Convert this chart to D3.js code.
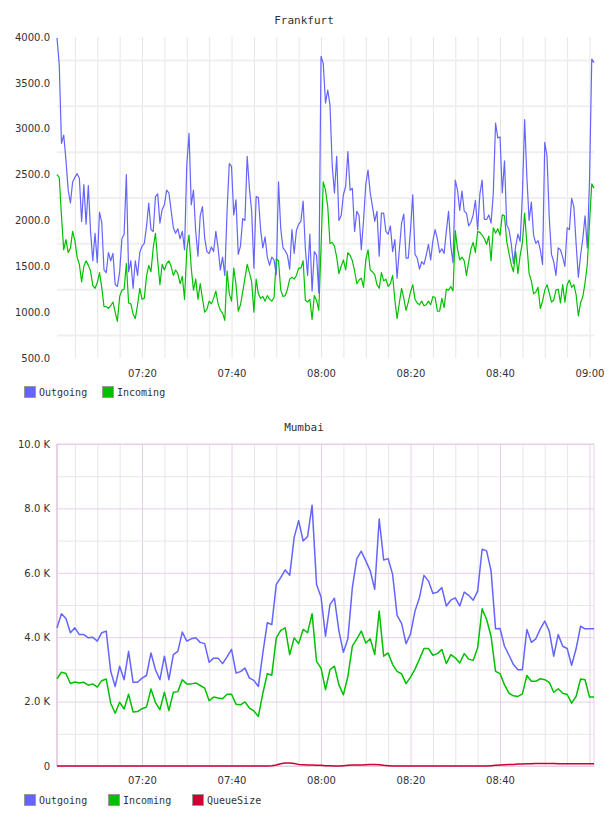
<!DOCTYPE html>
<html lang="en">
  <head>
    <meta charset="UTF-8" />
    <script src="https://cdn.jsdelivr.net/npm/d3@7"></script>
    <style>
      * {
        margin: 0;
        padding: 0;
      }
      body {
        background: #fff;
      }
      #container svg {
        display: block;
      }
      .tick text {
        font-family: 'DejaVu Sans', sans-serif;
        font-size: 10px;
        fill: #333;
      }
      .title,
      .legend text {
        font-family: 'DejaVu Sans Mono', monospace;
        fill: #333;
      }
    </style>
    <title>Frankfurt / Mumbai</title>
  </head>
  <body>
    <div id="container"></div>
  </body>
  <script>
    // Frankfurt: one sample every 30 s from 07:01
    const frankfurtOutgoing = [
      3990, 3700, 2840, 2930, 2660, 2330, 2190, 2420, 2470, 2510,
      2460, 1990, 2390, 1960, 2380, 1880, 1560, 1860, 1540, 2090,
      1980, 1460, 1430, 1650, 1560, 1640, 1300, 1280, 1440, 1800,
      1850, 2500, 1440, 1560, 1260, 1560, 1400, 1650, 1720, 1750,
      1930, 2190, 1900, 1880, 2260, 2290, 1970, 2120, 2170, 2330,
      2300, 2110, 1920, 1860, 1910, 1800, 1880, 1680, 2600, 2950,
      2170, 2330, 1880, 1610, 2050, 2150, 1810, 1660, 1640, 1710,
      1660, 1880, 1700, 1460, 1600, 1400, 2100, 2620, 2590, 2060,
      2225, 1630, 1720, 2020, 2000, 2700, 2350, 2100, 1480, 2260,
      2250, 1900, 1700, 1820, 1600, 1510, 1600, 1570, 1410, 2420,
      1910, 1700, 1670, 1620, 1470, 1900, 1640, 1890, 1960, 1990,
      2210, 1690, 1400, 1850, 1230, 1660, 1620, 1210, 3790,
      3710, 3280, 3420, 3260, 2600, 2300, 2700, 2000, 2050, 2280, 2370,
      2750, 2330, 2350, 1880, 2100, 2050, 1680, 2000, 2390, 2550,
      2300, 2150, 1990, 2100, 1610, 2080, 2080, 1880, 1850, 1940,
      1660, 1790, 1370, 1680, 1970, 2070, 1590, 1590, 1900, 2280,
      1630, 1590, 1470, 1550, 1520, 1620, 1740, 1570, 1780, 1900,
      1800, 1650, 1690, 1640, 1880, 2100, 1720, 1540, 2440, 2330,
      2110, 2320, 2100, 2080, 1940, 1980, 2060, 2220, 1900, 2290,
      2440, 2010, 2010, 2060, 1970, 2300, 3060, 2900, 2910, 2300,
      2650, 1950, 1900, 1750, 1530, 1720, 1850, 1770, 2280, 3100,
      2470, 2000, 2200, 1840, 1750, 1780, 1680, 1520, 2850, 2700,
      2030, 1630, 1550, 1400, 1700, 1680, 1600, 1500, 1920, 1900,
      2240, 2150, 1750, 1380, 1620, 1800, 2050, 1700, 2440, 3760, 3720,
    ];
    const frankfurtIncoming = [
      2500, 2470, 2050, 1680, 1790, 1650, 1700, 1880, 1780, 1600,
      1520, 1330, 1500, 1560, 1510, 1450, 1290, 1260, 1320, 1430,
      1270, 1060, 1060, 1040, 1070, 1110, 1000, 900, 1170, 1240,
      1250, 1530, 1100, 1090, 980, 930, 1080, 1260, 1140, 1150,
      1390, 1510, 1440, 1700, 1860, 1560, 1300, 1520, 1460, 1530,
      1560, 1500, 1400, 1460, 1420, 1310, 1390, 1140, 1680, 1840,
      1480, 1240, 1360, 1140, 1310, 1150, 1000, 1030, 1120, 1090,
      1150, 1230, 1090, 1020, 990, 910, 1450, 1200, 1120, 1480,
      1300, 1010, 1080, 1220, 1370, 1520, 1430, 1330, 1000, 1360,
      1200, 1150, 1170, 1120, 1180, 1140, 1120, 1160, 1580, 1560,
      1240, 1170, 1180, 1250, 1360, 1380, 1360, 1400, 1480, 1480,
      1560, 1130, 1110, 1140, 920, 1180, 1130, 1020, 1700,
      2420, 2330, 2150, 1750, 1760, 1720, 1600, 1420, 1500, 1570, 1460,
      1650, 1620, 1560, 1450, 1310, 1350, 1370, 1270, 1570, 1680,
      1460, 1440, 1410, 1300, 1260, 1430, 1340, 1360, 1280, 1310,
      1400, 1130, 930, 1100, 1260, 1150, 1020, 1110, 1220, 1300,
      1140, 1100, 1080, 1120, 1070, 1080, 1120, 1080, 1170, 1160,
      1010, 1010, 1150, 1050, 1250, 1240, 1280, 1230, 1890, 1690,
      1570, 1600, 1560, 1400, 1550, 1690, 1760, 1650, 1880, 1870,
      1840, 1800, 1740, 1830, 1560, 1920, 1860, 1910, 1840, 2060,
      2050, 1770, 1640, 1520, 1440, 1660, 1420, 1620, 1760, 2080,
      1740, 1420, 1340, 1200, 1220, 1270, 1040, 1120, 1240, 1300,
      1210, 1110, 1130, 1240, 1250, 1100, 1300, 1110, 1300, 1350,
      1270, 1300, 1190, 960, 1100, 1170, 1320, 1520, 1980, 2400, 2350,
    ];

    // Mumbai: one sample per minute from 07:01
    const mumbaiOutgoing = [
      4290, 4730, 4580, 4140, 4290, 4080, 4080, 3980, 4000, 3880,
      4140, 4190, 2940, 2470, 3100, 2680, 3560, 2600, 2600, 2730,
      2810, 3510, 2990, 2680, 3410, 2680, 3460, 3560, 4160, 3880,
      3950, 3980, 3840, 3800, 3220, 3350, 3350, 3180, 3390, 3620,
      2890, 2930, 3040, 2730, 2660, 2470, 3510, 4450, 4390, 5640,
      5850, 6090, 5920, 7100, 7620, 6990, 7130, 8100, 5640, 5250,
      4030, 5020, 5210, 4190, 3530, 3950, 5540, 6440, 6670, 6370,
      6060, 5490, 7670, 6400, 6440, 5950, 4680, 4430, 3800, 4100,
      4810, 5230, 5920, 5750, 5360, 5400, 5540, 4970, 5150, 5220,
      4970, 5400, 5300, 5150, 5430, 6730, 6680, 6060, 4260, 4270,
      3720, 3440, 3150, 2990, 2990, 4240, 3840, 3950, 4260, 4500,
      4190, 3410, 4080, 3720, 3650, 3130, 3640, 4340, 4260, 4260,
      4260,
    ];
    const mumbaiIncoming = [
      2710, 2910, 2870, 2560, 2610, 2580, 2600, 2510, 2550, 2450,
      2650, 2700, 1950, 1640, 1980, 1770, 2230, 1680, 1690, 1780,
      1830, 2390, 1970, 1750, 2290, 1720, 2290, 2310, 2680, 2550,
      2550, 2580, 2500, 2420, 2030, 2140, 2110, 2090, 2230, 2230,
      1920, 1900, 1990, 1800, 1710, 1540, 2260, 2870, 2820, 3980,
      4210, 4290, 3460, 3980, 3800, 4240, 4140, 4730, 3250, 3040,
      2370, 2990, 3100, 2520, 2210, 2780, 3720, 3950, 4190, 3820,
      3950, 3460, 4810, 3410, 3510, 3150, 2940, 2860, 2560, 2760,
      3010, 3320, 3650, 3650, 3440, 3490, 3620, 3180, 3460, 3360,
      3200, 3490, 3320, 3280, 3670, 4880, 4550, 4030, 2940, 2870,
      2520, 2260, 2180, 2160, 2240, 2810, 2630, 2630, 2710, 2680,
      2600, 2290, 2400, 2260, 2220, 1950, 2160, 2700, 2680, 2140,
      2140,
    ];
    const mumbaiQueue = [
      0, 0, 0, 0, 0, 0, 0, 0, 0, 0,
      0, 0, 0, 0, 0, 0, 0, 0, 0, 0,
      0, 0, 0, 0, 0, 0, 0, 0, 0, 0,
      0, 0, 0, 0, 0, 0, 0, 0, 0, 0,
      0, 0, 0, 0, 0, 0, 0, 0, 10, 30,
      70, 90, 90, 80, 50, 40, 30, 30, 20, 20,
      10, 10, 0, 0, 10, 20, 30, 30, 30, 40,
      50, 50, 40, 20, 10, 0, 0, 0, 0, 0,
      0, 0, 0, 0, 0, 0, 0, 0, 0, 0,
      0, 0, 0, 0, 0, 0, 0, 10, 20, 30,
      40, 50, 50, 60, 60, 70, 70, 80, 80, 80,
      80, 80, 70, 70, 70, 70, 70, 70, 70, 70,
      70,
    ];

    const frankfurtYTicks = [500, 1000, 1500, 2000, 2500, 3000, 3500, 4000];
    const frankfurtYGrid = [750, 1250, 1750, 2250, 2750, 3250, 3750];
    const mumbaiYTicks = [0, 2000, 4000, 6000, 8000, 10000];
    const mumbaiYMinor = [1000, 3000, 5000, 7000, 9000];

    const colorMap = {
      Outgoing: '#6464ff',
      Incoming: '#00c000',
      QueueSize: '#cc0033',
    };

    const width = 608;
    const height = 816;
    const left = 57;
    const right = 594;

    const startTime = new Date(2024, 0, 1, 7, 1);
    const endTime = new Date(2024, 0, 1, 9, 1);
    const timesFor = (arr, stepSec) =>
      arr.map((v, i) => new Date(+startTime + i * stepSec * 1000));

    const svg = d3
      .select('#container')
      .append('svg')
      .attr('width', width)
      .attr('height', height);

    function drawChart(opt) {
      const g = svg.append('g');
      const x = d3.scaleTime().domain([startTime, endTime]).range([left, right]);
      const y = d3.scaleLinear().domain(opt.yDomain).range([opt.bottom, opt.top]);
      const plotW = right - left;
      const plotH = opt.bottom - opt.top;

      // title
      g.append('text')
        .attr('class', 'title')
        .attr('x', width / 2)
        .attr('y', opt.top - 13)
        .attr('text-anchor', 'middle')
        .attr('font-size', 11)
        .text(opt.title);

      // vertical grid every 5 min
      const vgrid = g
        .append('g')
        .attr('transform', `translate(0,${opt.bottom})`)
        .call(
          d3
            .axisBottom(x)
            .ticks(d3.timeMinute.every(5))
            .tickSize(-plotH)
            .tickFormat('')
        );
      vgrid.select('.domain').remove();
      vgrid
        .selectAll('.tick line')
        .attr('stroke', (d) =>
          opt.purple && d.getMinutes() % 20 === 0 ? opt.majorColor : opt.gridColor
        );

      // horizontal grid (minor)
      const hgrid = g
        .append('g')
        .attr('transform', `translate(${left},0)`)
        .call(d3.axisLeft(y).tickValues(opt.gridValues).tickSize(-plotW).tickFormat(''));
      hgrid.select('.domain').remove();
      hgrid
        .selectAll('.tick line')
        .attr('stroke', opt.hGridColor)
        .attr('stroke-width', opt.hGridWidth);

      if (opt.purple) {
        const major = g
          .append('g')
          .attr('transform', `translate(${left},0)`)
          .call(d3.axisLeft(y).tickValues(opt.yTicks).tickSize(-plotW).tickFormat(''));
        major.select('.domain').remove();
        major.selectAll('.tick line').attr('stroke', opt.majorColor);
        // frame
        g.append('rect')
          .attr('x', left)
          .attr('y', opt.top)
          .attr('width', plotW)
          .attr('height', plotH)
          .attr('fill', 'none')
          .attr('stroke', opt.majorColor);
        g.append('line')
          .attr('x1', left)
          .attr('x2', left)
          .attr('y1', opt.top)
          .attr('y2', opt.bottom)
          .attr('stroke', '#d9b9d9');
      }

      // y labels
      const yAxis = g
        .append('g')
        .attr('transform', `translate(${left},0)`)
        .call(
          d3.axisLeft(y).tickValues(opt.yTicks).tickSize(0).tickPadding(7).tickFormat(opt.yFormat)
        );
      yAxis.select('.domain').remove();

      // x labels
      const xAxis = g
        .append('g')
        .attr('transform', `translate(0,${opt.bottom})`)
        .call(
          d3
            .axisBottom(x)
            .tickValues(opt.xTicks)
            .tickSize(0)
            .tickPadding(opt.xPad)
            .tickFormat(d3.timeFormat('%H:%M'))
        );
      xAxis.select('.domain').remove();

      // lines
      const line = d3
        .line()
        .x((d) => x(d[0]))
        .y((d) => y(d[1]));
      opt.series.forEach((s) => {
        const times = timesFor(s.values, opt.step);
        g.append('path')
          .datum(s.values.map((v, i) => [times[i], v]))
          .attr('fill', 'none')
          .attr('stroke', colorMap[s.name])
          .attr('stroke-width', opt.lineWidth)
          .attr('stroke-linejoin', 'round')
          .attr('d', line);
      });

      // legend
      const legend = g
        .append('g')
        .attr('class', 'legend')
        .selectAll('g')
        .data(opt.series)
        .join('g')
        .attr('transform', (d, i) => `translate(${opt.legendX[i]},${opt.legendY})`);
      legend
        .append('rect')
        .attr('x', 0.5)
        .attr('y', -5.5)
        .attr('width', 11)
        .attr('height', 11)
        .attr('fill', (d) => colorMap[d.name])
        .attr('stroke', '#999');
      legend
        .append('text')
        .attr('x', 15)
        .attr('y', 4)
        .attr('font-size', 10)
        .text((d) => d.name);
    }

    const xTicksAt = (list) => list.map(([h, m]) => new Date(2024, 0, 1, h, m));

    drawChart({
      title: 'Frankfurt',
      top: 37,
      bottom: 358,
      yDomain: [500, 4000],
      yTicks: frankfurtYTicks,
      gridValues: frankfurtYGrid,
      yFormat: d3.format('.1f'),
      xTicks: xTicksAt([[7, 20], [7, 40], [8, 0], [8, 20], [8, 40], [9, 0]]),
      xPad: 12,
      gridColor: '#e6e6e6',
      hGridColor: '#efefef',
      hGridWidth: 2,
      purple: false,
      step: 30,
      lineWidth: 1.2,
      series: [
        { name: 'Outgoing', values: frankfurtOutgoing },
        { name: 'Incoming', values: frankfurtIncoming },
      ],
      legendX: [24, 102],
      legendY: 392,
    });

    drawChart({
      title: 'Mumbai',
      top: 444,
      bottom: 766,
      yDomain: [0, 10000],
      yTicks: mumbaiYTicks,
      gridValues: mumbaiYMinor,
      yFormat: (d) => (d === 0 ? '0' : d3.format('.1f')(d / 1000) + ' K'),
      xTicks: xTicksAt([[7, 20], [7, 40], [8, 0], [8, 20], [8, 40]]),
      xPad: 11,
      gridColor: '#e6e6e6',
      hGridColor: '#e8e8e8',
      hGridWidth: 1,
      purple: true,
      majorColor: '#e6cfe6',
      step: 60,
      lineWidth: 1.5,
      series: [
        { name: 'Outgoing', values: mumbaiOutgoing },
        { name: 'Incoming', values: mumbaiIncoming },
        { name: 'QueueSize', values: mumbaiQueue },
      ],
      legendX: [24, 108, 192],
      legendY: 800,
    });
  </script>
</html>
